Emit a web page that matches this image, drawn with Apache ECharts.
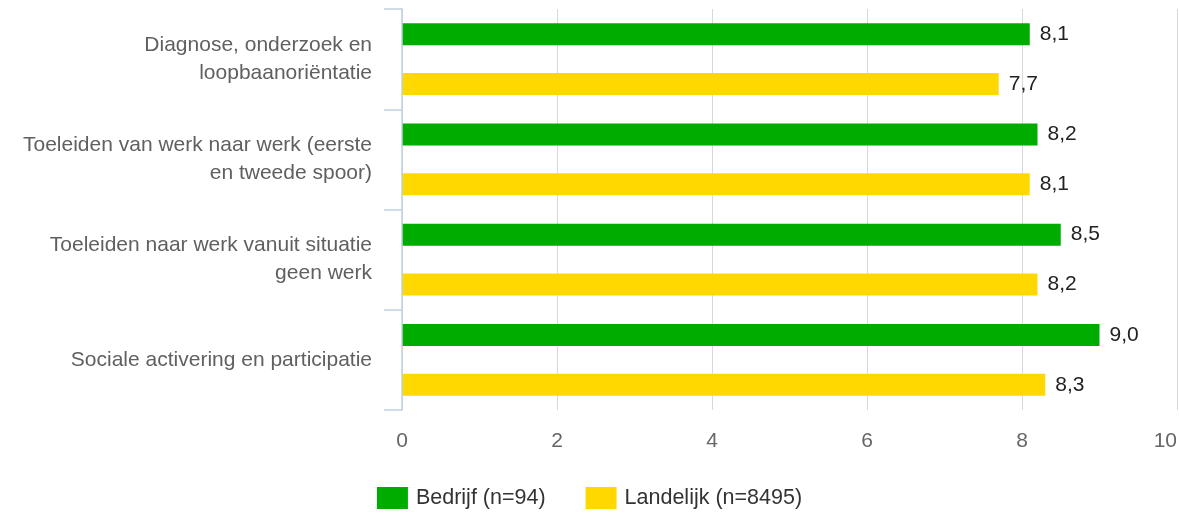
<!DOCTYPE html>
<html>
<head>
<meta charset="utf-8">
<script src="https://cdn.jsdelivr.net/npm/echarts@6/dist/echarts.min.js"></script>
<style>
  html, body { margin: 0; padding: 0; background: #fff; }
  #chart { width: 1179px; height: 517px; }
</style>
</head>
<body>
<div id="chart"></div>
<script>
// categories, top to bottom
const categories = [
  'Diagnose, onderzoek en\nloopbaanoriëntatie',
  'Toeleiden van werk naar werk (eerste\nen tweede spoor)',
  'Toeleiden naar werk vanuit situatie\ngeen werk',
  'Sociale activering en participatie'
]
const bedrijf = [8.1, 8.2, 8.5, 9.0]
const landelijk = [7.7, 8.1, 8.2, 8.3]
const seriesNames = ['Bedrijf (n=94)', 'Landelijk (n=8495)']

const font = 'Liberation Sans, Arial, sans-serif'
const fmt = (p) => p.value.toFixed(1).replace('.', ',')

const chart = echarts.init(document.getElementById('chart'))
chart.setOption({
  animation: false,
  textStyle: { fontFamily: font },
  grid: {
    left: 402,
    right: 2,
    top: 9,
    bottom: 107,
    containLabel: false,
    outerBoundsMode: 'none'
  },
  legend: {
    data: seriesNames,
    bottom: 3,
    left: 'center',
    itemWidth: 31,
    itemHeight: 22,
    itemGap: 40,
    icon: 'rect',
    textStyle: { fontSize: 21.5, color: '#333', fontFamily: font, padding: [0, 0, 0, 3] }
  },
  xAxis: {
    type: 'value',
    min: 0,
    max: 10,
    interval: 2,
    axisLine: { show: false },
    axisTick: { show: false },
    splitLine: { lineStyle: { color: '#d8d8d8', width: 1 } },
    axisLabel: {
      fontSize: 21,
      color: '#666',
      margin: 21,
      alignMaxLabel: 'right',
      fontFamily: font
    }
  },
  yAxis: {
    type: 'category',
    data: categories,
    inverse: true,
    z: 5,
    axisLine: { show: true, lineStyle: { color: '#c0d0e0', width: 1.5 } },
    axisTick: { show: true, length: 18, lineStyle: { color: '#c0d0e0', width: 1.5 } },
    axisLabel: {
      fontSize: 21,
      color: '#606060',
      margin: 30,
      lineHeight: 28,
      align: 'right',
      padding: [4, 0, 0, 0],
      fontFamily: font
    }
  },
  series: [
    {
      name: seriesNames[0],
      type: 'bar',
      data: bedrijf,
      barWidth: 22,
      barGap: '127%',
      itemStyle: { color: '#00ac00' },
      label: {
        show: true,
        position: 'right',
        distance: 10,
        fontSize: 21,
        color: '#222',
        formatter: fmt,
        fontFamily: font
      }
    },
    {
      name: seriesNames[1],
      type: 'bar',
      data: landelijk,
      barWidth: 22,
      itemStyle: { color: '#ffd800' },
      label: {
        show: true,
        position: 'right',
        distance: 10,
        fontSize: 21,
        color: '#222',
        formatter: fmt,
        fontFamily: font
      }
    }
  ]
})
</script>
</body>
</html>
